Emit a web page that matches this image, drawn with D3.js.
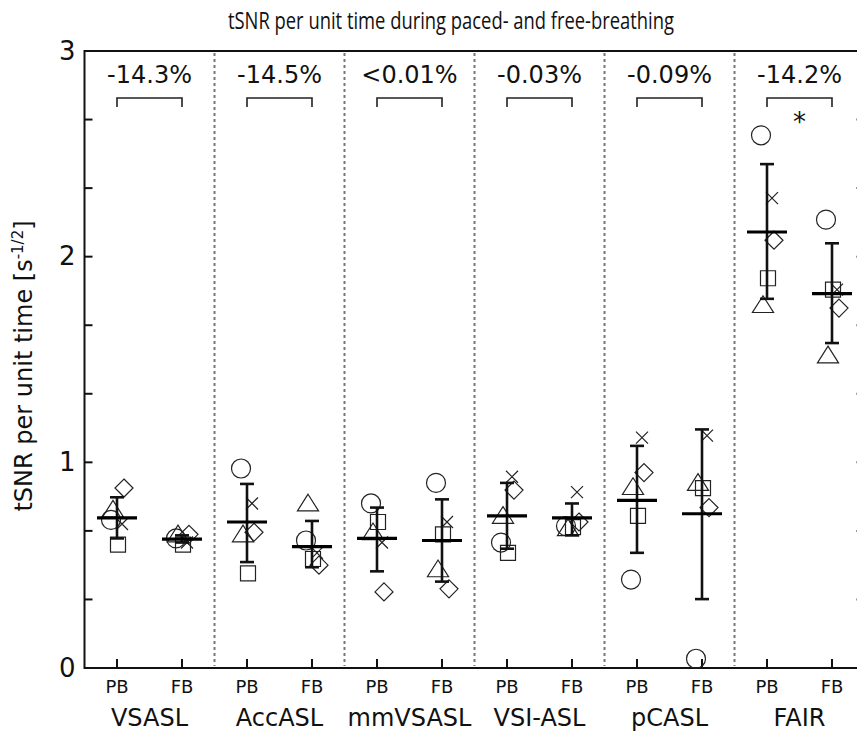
<!DOCTYPE html>
<html>
<head>
    <meta charset="UTF-8">
    <title>tSNR per unit time</title>
    <style type="text/css">
        body { margin: 0; background: #fff; }
        text { font-family: "DejaVu Sans", Verdana, sans-serif; fill: #111; }
        .marker { fill: none; stroke: #222; stroke-width: 1.2px; }
        .divider { stroke: #777; stroke-width: 2px; stroke-dasharray: 3,3; }
        .frame { stroke: #111; stroke-width: 2px; fill: none; }
    </style>
    <script src="https://d3js.org/d3.v7.min.js"></script>
</head>
<body>
<script type="text/javascript">
    // methods and breathing conditions
    var methods = ["VSASL", "AccASL", "mmVSASL", "VSI-ASL", "pCASL", "FAIR"];
    var conditions = ["PB", "FB"];
    var changeLabels = ["-14.3%", "-14.5%", "<0.01%", "-0.03%", "-0.09%", "-14.2%"];
    var significant = [false, false, false, false, false, true];

    // one value per column (method x condition) for each subject / marker
    var circleVals   = [0.72, 0.63, 0.97, 0.62, 0.80, 0.90, 0.61, 0.69, 0.43, 0.045, 2.59, 2.18];
    var crossVals    = [0.70, 0.61, 0.80, 0.56, 0.61, 0.71, 0.93, 0.855, 1.12, 1.13, 2.285, 1.84];
    var diamondVals  = [0.875, 0.65, 0.66, 0.50, 0.37, 0.385, 0.865, 0.71, 0.95, 0.78, 2.08, 1.75];
    var squareVals   = [0.60, 0.60, 0.46, 0.53, 0.71, 0.65, 0.56, 0.685, 0.74, 0.875, 1.895, 1.84];
    var triangleVals = [0.77, 0.65, 0.65, 0.80, 0.66, 0.48, 0.74, 0.68, 0.88, 0.90, 1.765, 1.52];

    // mean and error bar ends per column
    var means  = [0.73, 0.627, 0.71, 0.59, 0.63, 0.62, 0.74, 0.73, 0.815, 0.75, 2.12, 1.82];
    var errTop = [0.83, 0.645, 0.895, 0.715, 0.78, 0.82, 0.90, 0.80, 1.08, 1.16, 2.45, 2.065];
    var errBot = [0.63, 0.61, 0.515, 0.49, 0.47, 0.42, 0.58, 0.645, 0.56, 0.335, 1.795, 1.58];

    var yMajor = [0, 1, 2, 3];

    var width = 857, height = 733;
    var plotLeft = 84.5, plotTop = 51, plotBottom = 668;

    var svg = d3.select("body").append("svg")
        .attr("width", width)
        .attr("height", height);

    var columns = [];
    methods.forEach(function(m) {
        conditions.forEach(function(c) { columns.push(m + "|" + c); });
    });

    var x = d3.scaleBand()
        .domain(columns)
        .range([plotLeft, plotLeft + 65 * columns.length]);
    var xc = function(col) { return x(col) + x.bandwidth() / 2; };
    var groupX = d3.scaleBand().domain(methods).range([plotLeft, plotLeft + 65 * columns.length]);

    var y = d3.scaleLinear().domain([0, 3]).range([plotBottom, plotTop]);

    // title (condensed look)
    svg.append("text")
        .attr("x", 451).attr("y", 29)
        .attr("text-anchor", "middle")
        .attr("textLength", 446)
        .attr("lengthAdjust", "spacingAndGlyphs")
        .style("font-family", "'Open Sans', sans-serif")
        .style("font-size", "23px")
        .text("tSNR per unit time during paced- and free-breathing");

    // dividers between methods
    svg.selectAll(".divider")
        .data(methods.slice(1))
        .enter().append("line")
        .attr("class", "divider")
        .attr("x1", function(d) { return groupX(d); })
        .attr("x2", function(d) { return groupX(d); })
        .attr("y1", plotTop + 2).attr("y2", plotBottom - 2);

    // left axis labels
    var yAxis = d3.axisLeft(y).tickValues(yMajor).tickSize(0).tickPadding(9).tickFormat(d3.format("d"));
    var gy = svg.append("g").attr("transform", "translate(" + plotLeft + ",0)").call(yAxis);
    gy.select(".domain").remove();
    gy.attr("font-size", null).attr("font-family", null);
    gy.selectAll("text").style("font-size", "26px");

    var minor = d3.range(0, 3.01, 1 / 3);
    svg.selectAll(".ytick")
        .data(minor)
        .enter().append("line")
        .attr("x1", plotLeft).attr("x2", plotLeft + 8)
        .attr("y1", function(d) { return y(d); })
        .attr("y2", function(d) { return y(d); })
        .attr("stroke", "#111").attr("stroke-width", 2);

    // right axis ticks (inward)
    var rightX = plotLeft + 65 * columns.length;
    svg.selectAll(".rtick")
        .data(minor)
        .enter().append("line")
        .attr("x1", rightX - 8).attr("x2", rightX)
        .attr("y1", function(d) { return y(d); })
        .attr("y2", function(d) { return y(d); })
        .attr("stroke", "#333").attr("stroke-width", 2);

    // frame
    svg.append("path")
        .attr("class", "frame")
        .attr("d", "M" + rightX + "," + plotTop + "H" + plotLeft + "V" + plotBottom + "H" + rightX);

    // bottom ticks and labels
    var xAxis = d3.axisBottom(x).tickSize(0).tickPadding(12)
        .tickFormat(function(d) { return d.split("|")[1]; });
    var gx = svg.append("g").attr("transform", "translate(0," + plotBottom + ")").call(xAxis);
    gx.select(".domain").remove();
    gx.attr("font-size", null).attr("font-family", null);
    gx.selectAll("text").style("font-size", "18px");
    svg.selectAll(".xtick")
        .data(columns)
        .enter().append("line")
        .attr("x1", xc).attr("x2", xc)
        .attr("y1", plotBottom).attr("y2", plotBottom - 9)
        .attr("stroke", "#111").attr("stroke-width", 2);

    svg.selectAll(".glabel")
        .data(methods)
        .enter().append("text")
        .attr("x", function(d) { return groupX(d) + groupX.bandwidth() / 2; })
        .attr("y", 726)
        .attr("text-anchor", "middle")
        .style("font-size", "24px")
        .text(function(d) { return d; });

    // y label
    var yl = svg.append("text")
        .attr("transform", "translate(32," + 366 + ") rotate(-90)")
        .attr("text-anchor", "middle")
        .style("font-size", "24px");
    yl.append("tspan").text("tSNR per unit time [s");
    yl.append("tspan").attr("dy", -9).style("font-size", "15px").text("-1/2");
    yl.append("tspan").attr("dy", 9).text("]");

    // change labels and brackets
    methods.forEach(function(m, i) {
        var x1 = xc(m + "|PB"), x2 = xc(m + "|FB");
        svg.append("text")
            .attr("x", (x1 + x2) / 2).attr("y", 83)
            .attr("text-anchor", "middle")
            .style("font-size", "24px")
            .text(changeLabels[i]);
        svg.append("path")
            .attr("d", "M" + x1 + ",107V98H" + x2 + "V107")
            .attr("fill", "none").attr("stroke", "#222").attr("stroke-width", 1.6);
        if (significant[i]) {
            svg.append("text")
                .attr("x", (x1 + x2) / 2).attr("y", 131)
                .attr("text-anchor", "middle")
                .style("font-size", "26px")
                .text("*");
        }
    });

    // markers
    var shapes = {
        circle: function(s) { return "M" + s + ",0A" + s + "," + s + " 0 1,1 " + (-s) + ",0A" + s + "," + s + " 0 1,1 " + s + ",0Z"; },
        square: function(s) { return "M" + (-s) + "," + (-s) + "H" + s + "V" + s + "H" + (-s) + "Z"; },
        diamond: function(s) { return "M0," + (-s) + "L" + s + ",0L0," + s + "L" + (-s) + ",0Z"; },
        triangle: function(s) { return "M0," + (-s * 1.05) + "L" + (s * 1.2) + "," + (s * 0.85) + "H" + (-s * 1.2) + "Z"; },
        cross: function(s) { return "M" + (-s) + "," + (-s) + "L" + s + "," + s + "M" + s + "," + (-s) + "L" + (-s) + "," + s; }
    };
    var series = [
        { name: "circle", vals: circleVals, size: 9.5, dx: -6 },
        { name: "square", vals: squareVals, size: 7.5, dx: 1 },
        { name: "triangle", vals: triangleVals, size: 8.8, dx: -4 },
        { name: "diamond", vals: diamondVals, size: 9, dx: 7 },
        { name: "cross", vals: crossVals, size: 6, dx: 5 }
    ];
    series.forEach(function(s) {
        svg.selectAll(".m-" + s.name)
            .data(s.vals)
            .enter().append("path")
            .attr("class", "marker m-" + s.name)
            .attr("transform", function(d, i) {
                return "translate(" + (xc(columns[i]) + s.dx) + "," + y(d) + ")";
            })
            .attr("d", shapes[s.name](s.size));
    });

    // error bars and means
    var eb = svg.selectAll(".eb").data(columns).enter().append("g");
    eb.append("line")
        .attr("x1", xc).attr("x2", xc)
        .attr("y1", function(d, i) { return y(errTop[i]); })
        .attr("y2", function(d, i) { return y(errBot[i]); })
        .attr("stroke", "#111").attr("stroke-width", 2.6);
    eb.append("line")
        .attr("x1", function(d) { return xc(d) - 7; }).attr("x2", function(d) { return xc(d) + 7; })
        .attr("y1", function(d, i) { return y(errTop[i]); })
        .attr("y2", function(d, i) { return y(errTop[i]); })
        .attr("stroke", "#111").attr("stroke-width", 2.6);
    eb.append("line")
        .attr("x1", function(d) { return xc(d) - 7; }).attr("x2", function(d) { return xc(d) + 7; })
        .attr("y1", function(d, i) { return y(errBot[i]); })
        .attr("y2", function(d, i) { return y(errBot[i]); })
        .attr("stroke", "#111").attr("stroke-width", 2.6);
    eb.append("line")
        .attr("x1", function(d) { return xc(d) - 20; }).attr("x2", function(d) { return xc(d) + 20; })
        .attr("y1", function(d, i) { return y(means[i]); })
        .attr("y2", function(d, i) { return y(means[i]); })
        .attr("stroke", "#000").attr("stroke-width", 3.2);
</script>
</body>
</html>
